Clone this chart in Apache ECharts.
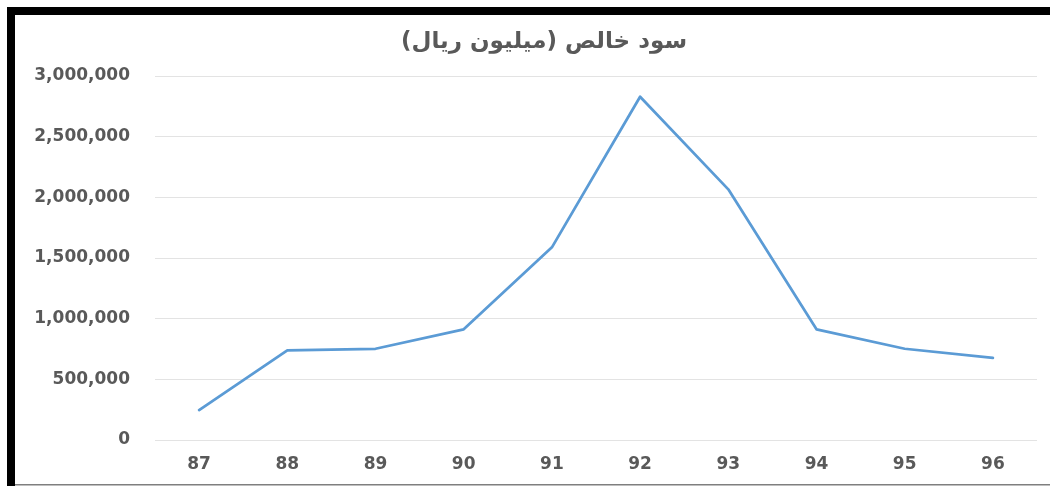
<!DOCTYPE html>
<html>
<head>
<meta charset="utf-8">
<script src="https://cdn.jsdelivr.net/npm/echarts@6/dist/echarts.min.js"></script>
<style>
html,body{margin:0;padding:0;background:#fff;}
#c{width:1050px;height:486px;}
</style>
</head>
<body>
<div id="c" dir="rtl"></div>
<script>
var titleText = 'سود خالص (میلیون ریال)';
var categories = ['87','88','89','90','91','92','93','94','95','96'];
var netProfit = [247000, 738000, 752000, 912000, 1588000, 2829000, 2066000, 912000, 752000, 676000];
var yTicks = [0, 500000, 1000000, 1500000, 2000000, 2500000, 3000000];

var chart = echarts.init(document.getElementById('c'), null, {renderer:'canvas'});
var font = '"DejaVu Sans", Verdana, sans-serif';
chart.setOption({
  animation: false,
  backgroundColor: '#fff',
  title: {
    text: titleText,
    left: 539, top: 26, textAlign: 'center',
    textStyle: {fontFamily: font, fontSize: 23, fontWeight: 'bold', color: '#595959'}
  },
  graphic: [
    {type:'rect', shape:{x:7,y:7,width:1043,height:8}, style:{fill:'#000'}},
    {type:'rect', shape:{x:7,y:7,width:8,height:479}, style:{fill:'#000'}},
    {type:'rect', shape:{x:15,y:484,width:1035,height:1.5}, style:{fill:'#7f7f7f'}}
  ],
  grid: {left:155, right:13, top:76, bottom:46},
  xAxis: {
    type:'category', data: categories, boundaryGap:true,
    axisLine:{show:false}, axisTick:{show:false},
    axisLabel:{fontFamily:font, fontSize:17, fontWeight:'bold', color:'#595959', margin:16}
  },
  yAxis: {
    type:'value', min:yTicks[0], max:yTicks[yTicks.length-1], interval:500000,
    axisLine:{show:false}, axisTick:{show:false},
    splitLine:{lineStyle:{color:'#e3e3e3', width:1}},
    axisLabel:{fontFamily:font, fontSize:17, fontWeight:'bold', color:'#595959', margin:25,
      formatter:function(v){return v.toString().replace(/\B(?=(\d{3})+(?!\d))/g, ',');}}
  },
  series: [{
    type:'line', data: netProfit, symbol:'none',
    lineStyle:{color:'#5B9BD5', width:2.75, cap:'round', join:'round'}
  }]
});
</script>
</body>
</html>
